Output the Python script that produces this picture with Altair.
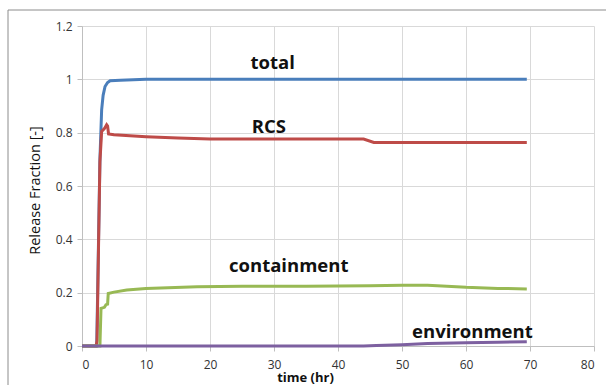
import altair as alt
import pandas as pd

# total release
t_total = [0, 2.3, 2.8, 3.07, 3.3, 3.6, 4.0, 4.4, 6.0, 10.0, 20.0, 69.5]
v_total = [0, 0, 0.70, 0.886, 0.94, 0.973, 0.988, 0.995, 0.997, 1.0, 1.0, 1.0]

# RCS
t_rcs = [0, 2.2, 2.35, 2.6, 2.8, 3.07, 3.5, 3.85, 4.0, 4.15, 5.0, 10.0, 15.0, 20.0, 30.0, 44.0, 45.6, 50.0, 69.5]
v_rcs = [0, 0, 0.02, 0.40, 0.69, 0.805, 0.815, 0.83, 0.825, 0.795, 0.792, 0.785, 0.780, 0.776, 0.776, 0.776, 0.763, 0.763, 0.763]

# containment
t_cont = [0, 2.8, 2.97, 3.5, 3.75, 4.0, 4.1, 5.0, 7.0, 10.0, 18.0, 25.0, 35.0, 45.0, 50.0, 54.0, 60.0, 65.0, 69.5]
v_cont = [0, 0, 0.141, 0.145, 0.155, 0.157, 0.197, 0.202, 0.210, 0.216, 0.222, 0.224, 0.224, 0.226, 0.228, 0.228, 0.220, 0.216, 0.214]

# environment
t_env = [0, 44.0, 46.0, 50.0, 54.0, 60.0, 65.0, 69.5]
v_env = [0, 0, 0.002, 0.005, 0.009, 0.012, 0.014, 0.016]

series_names = ["total", "RCS", "containment", "environment"]
series_colors = ["#4a7ebb", "#be4b48", "#98b954", "#7d60a0"]

# in-plot labels
label_text = ["total", "RCS", "containment", "environment"]
label_t = [29.8, 29.2, 32.3, 61.0]
label_v = [1.04, 0.80, 0.278, 0.030]

x_ticks = [0, 10, 20, 30, 40, 50, 60, 70, 80]
y_ticks = [0, 0.2, 0.4, 0.6, 0.8, 1.0, 1.2]

FONT = "Open Sans"

xs = alt.Scale(domain=[0, 80], nice=False)
ys = alt.Scale(domain=[0, 1.2], nice=False)

x_axis = alt.Axis(values=x_ticks, title="time (hr)", titleFontWeight="bold",
                  titleFontSize=13, titleX=223, titleY=25, labelFontSize=12,
                  tickSize=5, labelPadding=8, grid=True)
y_axis = alt.Axis(values=y_ticks, format="~g", title="Release Fraction [-]",
                  titleFontWeight="normal", titleFontSize=14.5, titleX=-47,
                  titleY=164, titleAlign="center", titleBaseline="middle",
                  labelFontSize=12, tickSize=5, labelPadding=5, grid=True)

frame = alt.Chart(pd.DataFrame({"a": [0]})).mark_rect(
    fill=None, stroke="#8c8c8c", strokeWidth=1
).encode(x=alt.value(-74), x2=alt.value(600), y=alt.value(-16), y2=alt.value(400))

layers = [frame]
series_t = [t_total, t_rcs, t_cont, t_env]
series_v = [v_total, v_rcs, v_cont, v_env]
for i, (name, tt, vv) in enumerate(zip(series_names, series_t, series_v)):
    df = pd.DataFrame({"t": tt, "v": vv, "series": name, "i": range(len(tt))})
    enc = dict(
        x=alt.X("t:Q", scale=xs, axis=x_axis),
        y=alt.Y("v:Q", scale=ys, axis=y_axis),
        order="i:Q",
    )
    layers.append(
        alt.Chart(df).mark_line(color=series_colors[i], strokeWidth=3).encode(**enc)
    )

lab_df = pd.DataFrame({"txt": label_text, "t": label_t, "v": label_v})
labels = alt.Chart(lab_df).mark_text(
    font=FONT, fontWeight="bold", fontSize=18.5, color="#111111",
    align="center", baseline="alphabetic"
).encode(x=alt.X("t:Q", scale=xs, axis=x_axis),
         y=alt.Y("v:Q", scale=ys, axis=y_axis), text="txt:N")
layers.append(labels)

chart = alt.layer(*layers).properties(
    width=512, height=320,
    padding={"left": 82, "top": 26, "right": 12, "bottom": 39},
    autosize=alt.AutoSizeParams(type="none"),
    background="white",
).configure_view(stroke=None).configure_axis(
    labelFont=FONT, titleFont=FONT, labelColor="#333333", titleColor="#111111",
    gridColor="#d9d9d9", gridWidth=1, domainColor="#bfbfbf", tickColor="#bfbfbf",
)

chart.save("out.html", embed_options={"renderer": "svg", "actions": False})
